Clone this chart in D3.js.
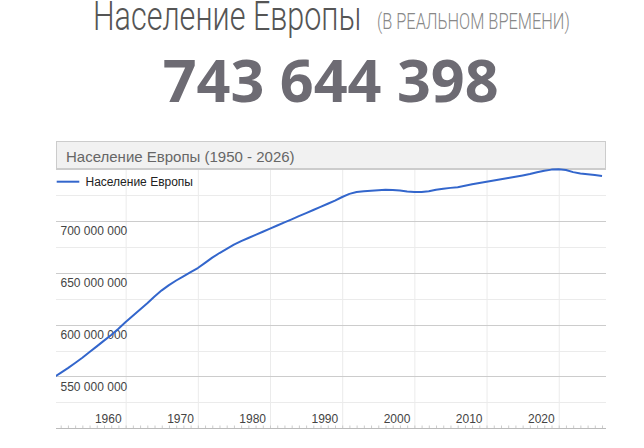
<!DOCTYPE html>
<html>
<head>
<meta charset="utf-8">
<script src="https://cdn.jsdelivr.net/npm/d3@7"></script>
<style>
  body { margin: 0; background: #fff; }
  svg { display: block; }
</style>
</head>
<body>
<div id="chart"></div>
<script>
// Europe population, millions
let years = [
    1950, 1951, 1952, 1953, 1954, 1955, 1956, 1957, 1958, 1959,
    1960, 1961, 1962, 1963, 1964, 1965, 1966, 1967, 1968, 1969,
    1970, 1971, 1972, 1973, 1974, 1975, 1976, 1977, 1978, 1979,
    1980, 1981, 1982, 1983, 1984, 1985, 1986, 1987, 1988, 1989,
    1990, 1991, 1992, 1993, 1994, 1995, 1996, 1997, 1998, 1999,
    2000, 2001, 2002, 2003, 2004, 2005, 2006, 2007, 2008, 2009,
    2010, 2011, 2012, 2013, 2014, 2015, 2016, 2017, 2018, 2019,
    2020, 2021, 2022, 2023, 2024, 2025, 2026
];
let population = [
    549.0, 553.5, 558.0, 563.0, 568.0, 573.5, 579.0, 584.5, 590.0, 596.0,
    602.5, 608.5, 614.5, 620.5, 627.0, 633.0, 638.0, 642.5, 646.5, 650.5,
    654.5, 659.5, 664.5, 669.0, 673.0, 677.0, 680.5, 683.5, 686.5, 689.5,
    692.5, 695.5, 698.5, 701.5, 704.5, 707.5, 710.5, 713.5, 716.5, 719.5,
    723.0, 726.0, 727.8, 728.5, 729.0, 729.6, 729.9, 729.8, 729.3, 728.3,
    727.8, 727.8, 728.6, 730.0, 731.0, 731.8, 732.5, 733.8, 735.2, 736.5,
    737.8, 739.0, 740.2, 741.3, 742.5, 743.8, 745.2, 746.8, 748.3, 749.4,
    749.8, 749.0, 747.0, 745.6, 745.0, 744.2, 743.3
];
let yTicks = [550, 600, 650, 700];
let yGrid = [500, 525, 550, 575, 600, 625, 650, 675, 700, 725, 750];
let xTicks = [1960, 1970, 1980, 1990, 2000, 2010, 2020];

let pageTitle = "Население Европы";
let pageSubtitle = "(В РЕАЛЬНОМ ВРЕМЕНИ)";
let counter = "743 644 398";
let chartTitle = "Население Европы (1950 - 2026)";
let seriesName = "Население Европы";

const width = 644, height = 448;
const plot = { left: 56, right: 606, top: 169, bottom: 428.3 };

let svg = d3.select("#chart")
    .append("svg")
    .attr("width", width)
    .attr("height", height);

// header: squeeze each text horizontally to the width it has in the picture
let fitText = (txt, x0, y0, w, size, weight, family, color) => {
    let t = svg.append("text")
        .style("font-family", family)
        .style("font-weight", weight)
        .style("font-size", `${size}px`)
        .style("fill", color)
        .text(txt);
    let natural = t.node().getComputedTextLength();
    t.attr("transform", `translate(${x0}, ${y0}) scale(${w / natural}, 1)`);
    return t;
}

fitText(pageTitle, 93, 29.5, 268.5, 40, 300, "Roboto, sans-serif", "#555");
fitText(pageSubtitle, 377, 28.5, 193, 22, 300, "Roboto, sans-serif", "#888");
fitText(counter, 162.7, 101.7, 336, 60, 700, "'Open Sans', sans-serif", "#6d6b73");

// scales
let x = d3.scaleLinear()
    .domain([1950.35, 2026.55])
    .range([plot.left, plot.right]);

let y = d3.scaleLinear()
    .domain([500, 750])
    .range([plot.bottom, plot.top]);

let fmt = d3.formatLocale({ decimal: ",", thousands: " ", grouping: [3], currency: ["", ""] }).format(",d");

// gridlines
svg.append("g")
    .selectAll("line")
    .data(xTicks)
    .enter()
    .append("line")
    .attr("x1", d => x(d) + 0.5)
    .attr("x2", d => x(d) + 0.5)
    .attr("y1", plot.top)
    .attr("y2", plot.bottom)
    .style("stroke", "#ebebeb");

svg.append("g")
    .selectAll("line")
    .data(yGrid)
    .enter()
    .append("line")
    .attr("x1", plot.left)
    .attr("x2", plot.right)
    .attr("y1", d => Math.round(y(d)) + 0.5)
    .attr("y2", d => Math.round(y(d)) + 0.5)
    .style("stroke", d => d % 50 == 0 ? "#cccccc" : "#ebebeb");

// x axis with yearly minor ticks
let xAxis = svg.append("g")
    .attr("transform", `translate(0, ${Math.round(plot.bottom) + 0.5})`)
    .call(d3.axisBottom(x).tickValues(years.filter(d => d >= 1951)).tickSize(-3).tickFormat(""));
xAxis.select(".domain").remove();
xAxis.selectAll(".tick line").style("stroke", "#ccc");
svg.append("line")
    .attr("x1", plot.left)
    .attr("x2", plot.right)
    .attr("y1", Math.round(plot.bottom) + 0.5)
    .attr("y2", Math.round(plot.bottom) + 0.5)
    .style("stroke", "#bbb");

svg.append("g")
    .selectAll("text")
    .data(xTicks)
    .enter()
    .append("text")
    .attr("x", d => x(d) - 4)
    .attr("y", 422.5)
    .style("text-anchor", "end")
    .style("font-family", "Arial, 'Liberation Sans', sans-serif")
    .style("font-size", "12px")
    .style("fill", "#444")
    .text(d => d);

// y labels inside the plot
svg.append("g")
    .selectAll("text")
    .data(yTicks)
    .enter()
    .append("text")
    .attr("x", 60.5)
    .attr("y", d => y(d) + 14.3)
    .style("font-family", "Arial, 'Liberation Sans', sans-serif")
    .style("font-size", "12px")
    .style("fill", "#444")
    .text(d => fmt(d * 1e6));

// title box
svg.append("rect")
    .attr("x", plot.left + 0.5)
    .attr("y", 141.5)
    .attr("width", plot.right - plot.left - 1)
    .attr("height", 27)
    .style("fill", "#f1f1f1")
    .style("stroke", "#ccc");

svg.append("text")
    .attr("x", 66)
    .attr("y", 161.5)
    .style("font-family", "Arial, 'Liberation Sans', sans-serif")
    .style("font-size", "15px")
    .style("fill", "#666")
    .text(chartTitle);

// legend
svg.append("line")
    .attr("x1", 56.7)
    .attr("x2", 79.3)
    .attr("y1", 181.7)
    .attr("y2", 181.7)
    .style("stroke", "#3366cc")
    .style("stroke-width", 2);

svg.append("text")
    .attr("x", 85.5)
    .attr("y", 185.8)
    .style("font-family", "Arial, 'Liberation Sans', sans-serif")
    .style("font-size", "12px")
    .style("fill", "#222")
    .text(seriesName);

// line
svg.append("clipPath")
    .attr("id", "plot-clip")
    .append("rect")
    .attr("x", plot.left)
    .attr("y", plot.top - 5)
    .attr("width", plot.right - plot.left)
    .attr("height", plot.bottom - plot.top + 5);

let line = d3.line()
    .x((d, i) => x(years[i]))
    .y(d => y(d));

svg.append("path")
    .datum(population)
    .attr("clip-path", "url(#plot-clip)")
    .attr("d", line)
    .style("fill", "none")
    .style("stroke", "#3366cc")
    .style("stroke-width", 2)
    .style("stroke-linejoin", "round");
</script>
</body>
</html>
